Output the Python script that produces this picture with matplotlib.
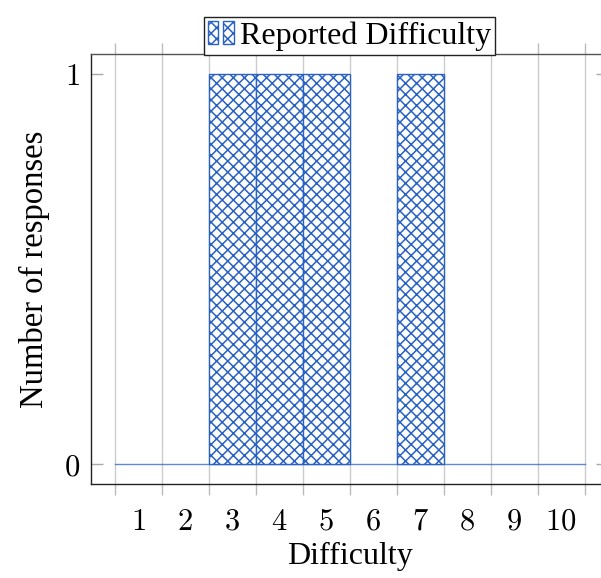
import matplotlib
matplotlib.use('Agg')
import matplotlib.pyplot as plt
from matplotlib.patches import Rectangle
from matplotlib.legend_handler import HandlerTuple
import numpy as np

# 数据
difficulty = [1, 2, 3, 4, 5, 6, 7, 8, 9, 10]
responses = [0, 0, 1, 1, 1, 0, 1, 0, 0, 0]
series_name = 'Reported Difficulty'

blue = '#2a62c4'
plt.rcParams['font.family'] = ['Liberation Serif', 'DejaVu Serif']
plt.rcParams['mathtext.fontset'] = 'cm'
plt.rcParams['hatch.linewidth'] = 1.1
plt.rcParams['hatch.color'] = blue

fig = plt.figure(figsize=(6.01, 5.78), dpi=100)
ax = fig.add_axes([91/601, 94/578, 517/601, 430/578])

edges = np.arange(0.5, 11, 1.0)
x = np.array(difficulty)
y = np.array(responses)
# 零高度的柱画成一条线
ax.plot([edges[0], edges[-1]], [0, 0], color=blue, lw=1.0, alpha=0.75, zorder=2)
bars = ax.bar(x[y > 0], y[y > 0], width=1.0, color='white', edgecolor=blue,
              hatch='xxx', linewidth=1.0, zorder=3)

ax.set_xlim(0, 11)
ax.set_ylim(-0.05, 1.05)

# 网格线在区间边界，标签在中间
ax.set_xticks(edges)
ax.set_xticklabels([])
ax.set_xticks(x, minor=True)
ax.set_xticklabels(['$%d$' % v for v in difficulty], minor=True, fontsize=22)
ax.tick_params(axis='x', which='major', direction='out', length=8, width=1,
               color='#bbbbbb', top=True)
ax.tick_params(axis='x', which='minor', length=0, pad=17)
ax.grid(axis='x', which='major', color='#cccccc', lw=1.0, zorder=0)

ax.set_yticks([0, 1])
ax.set_yticklabels(['$0$', '$1$'], fontsize=22)
ax.tick_params(axis='y', direction='in', length=8.5, width=1, color='#aaaaaa',
               right=True, pad=8)

for s in ['left', 'bottom']:
    ax.spines[s].set_color('#222222')
for s in ['top', 'right']:
    ax.spines[s].set_color('#555555')
for s in ax.spines.values():
    s.set_linewidth(1.0)

ax.set_xlabel('Difficulty', fontsize=23, labelpad=4)
ax.set_ylabel('Number of responses', fontsize=23.5, labelpad=10)

h1 = Rectangle((0, 0), 1, 1, facecolor='white', edgecolor=blue, hatch='xxx', lw=1.0)
h2 = Rectangle((0, 0), 1, 1, facecolor='white', edgecolor=blue, hatch='xxx', lw=1.0)
leg = ax.legend([(h1, h2)], [series_name], handler_map={tuple: HandlerTuple(ndivide=None, pad=0.15)},
                loc='center', bbox_to_anchor=(0.5, 1.042), fontsize=23,
                handlelength=0.8, handleheight=0.75, handletextpad=0.2,
                borderpad=0.12, borderaxespad=0, fancybox=False, framealpha=1)
leg.get_frame().set_edgecolor('#222222')
leg.get_frame().set_linewidth(1.0)

fig.savefig('out.png', dpi=100)
